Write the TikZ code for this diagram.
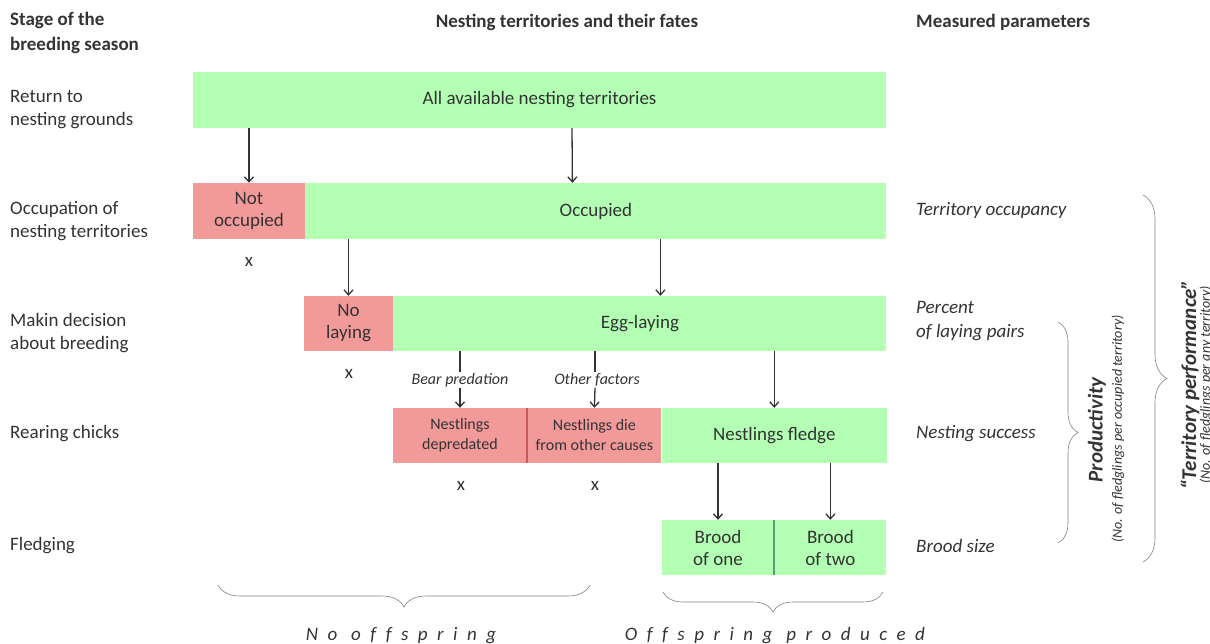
\documentclass[tikz,border=0pt]{standalone}
\usepackage{fontspec}
\setmainfont{Carlito}
\usetikzlibrary{positioning,arrows.meta,decorations.pathreplacing}
\definecolor{fategreen}{HTML}{B3FFB3}
\definecolor{fatered}{HTML}{F29A9A}
\definecolor{splitgreen}{HTML}{5E9E6E}
\definecolor{splitred}{HTML}{C85A5A}
\definecolor{inkgray}{HTML}{333333}
\begin{document}
\begin{tikzpicture}[x=1pt, y=-1pt,
    box/.style={minimum height=56pt, inner sep=1pt, align=center, font=\fontsize{19}{22}\selectfont, text=inkgray},
    okbox/.style={box, fill=fategreen},
    lostbox/.style={box, fill=fatered},
    smallbox/.style={minimum height=55pt, font=\fontsize{16}{20}\selectfont},
    arrow/.style={-{Straight Barb[length=5pt,width=9pt]}, line width=1.3pt, draw=inkgray},
    stem/.style={line width=1.3pt, draw=inkgray},
    stage/.style={anchor=west, align=left, inner sep=0pt, font=\fontsize{19}{23}\selectfont, text=inkgray},
    header/.style={align=left, inner sep=0pt, font=\fontsize{19}{25}\selectfont\bfseries, text=inkgray},
    param/.style={anchor=west, align=left, inner sep=0pt, font=\fontsize{19}{24}\selectfont\itshape, text=inkgray},
    cause/.style={inner sep=1pt, font=\fontsize{16}{18}\selectfont\itshape, text=inkgray},
    fatemark/.style={font=\fontsize{19}{20}\selectfont, text=inkgray},
    sidetitle/.style={rotate=90, font=\fontsize{21}{23}\selectfont\bfseries\itshape, text=inkgray},
    sidenote/.style={rotate=90, font=\fontsize{14}{16}\selectfont\itshape, text=inkgray},
    curly/.style={decorate, decoration={brace, amplitude=#1}, draw=gray, line width=0.6pt},
    spaced/.style={font=\fontsize{19}{20}\selectfont\itshape\addfontfeatures{LetterSpace=50,Ligatures=NoCommon}, text=inkgray}
]
    \useasboundingbox (0,0) rectangle (1210,644);

    % --- headers ---
    \node[header, anchor=west] (hstage) at (10,33) {Stage of the\\breeding season};
    \node[header] (hfate) at (567,22) {Nesting territories and their fates};
    \node[header, anchor=west] (hparam) at (916,22) {Measured parameters};

    % --- stages of the season ---
    \node[stage] (sreturn) at (10,110) {Return to\\nesting grounds};
    \node[stage] (soccup) at (10,221) {Occupation of\\nesting territories};
    \node[stage] (sdecide) at (10,333) {Makin decision\\about breeding};
    \node[stage] (srear) at (10,434) {Rearing chicks};
    \node[stage] (sfledge) at (10,546) {Fledging};

    % --- territories and their fates ---
    \node[okbox, minimum width=693pt] (all) at (539.5,100) {All available nesting territories};

    \node[lostbox, minimum width=112pt] (notocc) at (249,211) {Not\\occupied};
    \node[okbox, minimum width=581pt, right=0pt of notocc] (occ) {Occupied};

    \node[lostbox, minimum width=89pt, minimum height=55pt] (nolay) at (348.5,323.5) {No\\laying};
    \node[okbox, minimum width=493pt, minimum height=55pt, right=0pt of nolay] (egg) {Egg-laying};

    \node[lostbox, smallbox, minimum width=134pt] (depr) at (460,435.5) {Nestlings\\depredated};
    \node[lostbox, smallbox, minimum width=134pt, right=0pt of depr] (other) {Nestlings die\\from other causes};
    \node[okbox, minimum width=225pt, minimum height=55pt, right=0pt of other] (fledge) {Nestlings fledge};

    \node[okbox, minimum width=112pt, minimum height=55pt] (one) at (718,547.5) {Brood\\of one};
    \node[okbox, minimum width=112pt, minimum height=55pt, right=0pt of one] (two) {Brood\\of two};

    \draw[splitred, line width=2pt] (depr.north east) -- (depr.south east);
    \draw[splitgreen, line width=2pt] (one.north east) -- (one.south east);

    % --- arrows between stages ---
    \draw[arrow] (notocc.north |- all.south) -- (notocc.north);
    \draw[arrow] ([xshift=32.5pt]all.south) -- ([xshift=-23.5pt]occ.north);
    \draw[arrow] (nolay.north |- occ.south) -- (nolay.north);
    \draw[arrow] ([xshift=64.5pt]occ.south) -- ([xshift=20.5pt]egg.north);

    \node[cause] (bear) at (460,380) {Bear predation};
    \node[cause] (factors) at (597,380) {Other factors};
    \draw[stem] (bear.north |- egg.south) -- (bear.north);
    \draw[arrow] (bear.south) -- (depr.north);
    \draw[stem] ([xshift=-2pt]factors.north |- egg.south) -- ([xshift=-2pt]factors.north);
    \draw[arrow] ([xshift=-2pt]factors.south) -- (other.north);
    \draw[arrow] (fledge.north |- egg.south) -- (fledge.north);

    \draw[arrow] (one.north |- fledge.south) -- (one.north);
    \draw[arrow] (two.north |- fledge.south) -- (two.north);

    % --- dead ends ---
    \node[fatemark] (xnot) at (249,262) {x};
    \node[fatemark] (xnolay) at (349,374) {x};
    \node[fatemark] (xdepr) at (461,486) {x};
    \node[fatemark] (xother) at (595,486) {x};

    % --- measured parameters ---
    \node[param] (pocc) at (916,210) {Territory occupancy};
    \node[param] (play) at (916,321) {Percent\\of laying pairs};
    \node[param] (pnest) at (916,434) {Nesting success};
    \node[param] (pbrood) at (916,546) {Brood size};

    \draw[curly=20pt] (1058,322) -- (1058,543);
    \node[sidetitle] (prod) at (1097,430) {Productivity};
    \node[sidenote] (prodsub) at (1118,429) {(No. of fledglings per occupied territory)};

    \draw[curly=24pt] (1143,195) -- (1143,562);
    \node[sidetitle] (perf) at (1190,385) {“Territory performance”};
    \node[sidenote] (perfsub) at (1206,385) {(No. of fledglings per any territory)};

    % --- outcome ---
    \draw[curly=22pt, decoration={mirror}] (218,585) -- (590,585);
    \draw[curly=20pt, decoration={mirror}] (663,592) -- (883,592);
    \node[spaced] (nooff) at (401,636) {No offspring};
    \node[spaced] (off) at (775,636) {Offspring produced};

\end{tikzpicture}
\end{document}
